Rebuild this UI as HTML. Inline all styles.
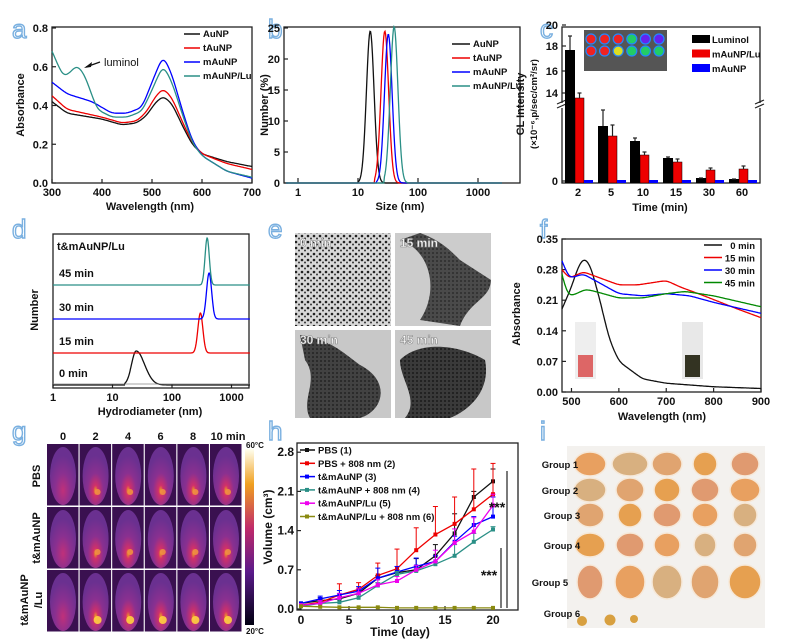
<!DOCTYPE html>
<html><head><meta charset="utf-8"><style>
html,body{margin:0;padding:0;background:#fff}
svg{display:block}
text{font-family:"Liberation Sans",sans-serif;font-weight:bold;fill:#111}
.pl{font-size:26px;fill:#fff;stroke:#7ab0e0;stroke-width:1.4;font-weight:normal}
.t{font-size:11px}
.s{font-size:9.5px}
.ax{fill:none;stroke:#222;stroke-width:1.3}
.ln{fill:none;stroke-width:1.3}
</style></head><body>
<svg id="s" width="799" height="642" viewBox="0 0 799 642" xmlns="http://www.w3.org/2000/svg">
<defs>
<radialGradient id="hot" cx="50%" cy="75%" r="60%">
<stop offset="0" stop-color="#f0a020"/><stop offset="0.15" stop-color="#d0306a"/><stop offset="0.5" stop-color="#8a3090"/><stop offset="1" stop-color="#6a3090"/></radialGradient>
<radialGradient id="warm" cx="50%" cy="75%" r="60%">
<stop offset="0" stop-color="#c0307a"/><stop offset="0.5" stop-color="#8a3090"/><stop offset="1" stop-color="#6a3090"/></radialGradient>
<linearGradient id="cb" x1="0" y1="1" x2="0" y2="0">
<stop offset="0" stop-color="#000010"/><stop offset="0.3" stop-color="#5a1a8a"/><stop offset="0.55" stop-color="#c02a6a"/><stop offset="0.8" stop-color="#f0a020"/><stop offset="1" stop-color="#fffff0"/></linearGradient>
<pattern id="dots" width="6" height="6" patternUnits="userSpaceOnUse"><rect width="6" height="6" fill="#d8d8d8"/><circle cx="2" cy="2" r="1.3" fill="#222"/><circle cx="5" cy="4.5" r="1" fill="#333"/></pattern>
<pattern id="dense" width="4" height="4" patternUnits="userSpaceOnUse"><rect width="4" height="4" fill="#333"/><circle cx="1" cy="1" r="1" fill="#111"/></pattern>
</defs>
<g id="g"></g>
</svg>
<script>
var G=document.getElementById('g'),h='';
function P(pts,c,w){return '<path class="ln" stroke="'+c+'" stroke-width="'+(w||1.3)+'" d="M'+pts.map(function(p){return p[0].toFixed(1)+','+p[1].toFixed(1)}).join('L')+'"/>';}
function T(x,y,s,cls,anc,extra){return '<text x="'+x+'" y="'+y+'" class="'+(cls||'t')+'" text-anchor="'+(anc||'middle')+'" '+(extra||'')+'>'+s+'</text>';}
function lin(pts,x){for(var i=0;i<pts.length-1;i++){if(x>=pts[i][0]&&x<=pts[i+1][0]){var t=(x-pts[i][0])/(pts[i+1][0]-pts[i][0]);return pts[i][1]+(pts[i+1][1]-pts[i][1])*t;}}return pts[pts.length-1][1];}
function curve(pts,a,b,step){var v=[];for(var x=a;x<=b;x+=step)v.push([x,lin(pts,x)]);
for(var pass=0;pass<4;pass++){var n=v.map(function(p){return p[1]});for(var i=2;i<v.length-2;i++)v[i][1]=(n[i-2]+n[i-1]+n[i]+n[i+1]+n[i+2])/5;}return v;}
function L(x1,y1,x2,y2,c,w){return '<line x1="'+x1+'" y1="'+y1+'" x2="'+x2+'" y2="'+y2+'" stroke="'+(c||'#222')+'" stroke-width="'+(w||1.2)+'"/>';}
[['a',12,38],['b',268,38],['c',540,38],['d',12,238],['e',268,238],['f',540,238],['g',12,440],['h',268,440],['i',540,440]].forEach(function(a){h+=T(a[1],a[2],a[0],'pl','start');});
// ---- a
(function(){var X=function(w){return 52+(w-300)/400*200},Y=function(v){return 183-v/0.8*155};
h+='<rect class="ax" x="52" y="27" width="200" height="156"/>';
[300,400,500,600,700].forEach(function(w){h+=L(X(w),183,X(w),179)+T(X(w),196,w);});
[0,0.2,0.4,0.6,0.8].forEach(function(v){h+=L(52,Y(v),56,Y(v))+T(48,Y(v)+4,v.toFixed(1),'t','end');});
h+=T(150,210,'Wavelength (nm)')+T(24,105,'Absorbance','t','middle','transform="rotate(-90 24 105)"');
var S={'#111':[[300,.42],[330,.36],[400,.33],[440,.30],[470,.31],[490,.35],[505,.41],[522,.45],[540,.41],[560,.30],[580,.20],[600,.15],[650,.11],[700,.085]],
'#e00':[[300,.45],[330,.38],[400,.34],[440,.31],[470,.32],[490,.37],[505,.44],[522,.49],[540,.44],[560,.32],[580,.21],[600,.15],[650,.10],[700,.07]],
'#00f':[[300,.52],[330,.46],[380,.42],[420,.36],[450,.36],[480,.39],[500,.52],[522,.66],[540,.56],[560,.38],[580,.22],[600,.14],[650,.06],[700,.025]],
'#2a8f86':[[300,.68],[322,.55],[332,.56],[350,.61],[365,.56],[390,.38],[420,.34],[450,.34],[480,.37],[500,.48],[522,.61],[540,.52],[560,.36],[580,.21],[600,.14],[650,.06],[700,.03]]};
for(var c in S){h+=P(curve(S[c],300,700,2).map(function(p){return [X(p[0]),Y(p[1])]}),c);}
h+=L(100,62,86,67,'#111')+'<polygon points="84,68 92,62 91,67" fill="#111"/>'+T(104,66,'luminol','t','start','style="font-weight:normal"');
[['AuNP','#111'],['tAuNP','#e00'],['mAuNP','#00f'],['mAuNP/Lu','#2a8f86']].forEach(function(l,i){var y=34+i*14;h+=L(184,y,200,y,l[1],1.5)+T(203,y+3,l[0],'s','start');});})();
// ---- b
(function(){var X=function(s){return 298+Math.log10(s)*60},Y=function(n){return 183-n/25*155};
h+='<rect class="ax" x="284" y="27" width="236" height="156"/>';
[[1,'1'],[10,'10'],[100,'100'],[1000,'1000']].forEach(function(a){h+=L(X(a[0]),183,X(a[0]),178)+T(X(a[0]),196,a[1]);});
[0,5,10,15,20,25].forEach(function(v){h+=L(284,Y(v),288,Y(v))+T(280,Y(v)+4,v,'t','end');});
h+=T(400,210,'Size (nm)')+T(268,105,'Number (%)','t','middle','transform="rotate(-90 268 105)"');
[[16,24.5,'#111',10],[28,24.5,'#e00',19],[32,24,'#00f',20],[40,25.2,'#2a8f86',27]].forEach(function(a){var p=[];for(var l=-0.2;l<=3.4;l+=0.01){var s=Math.pow(10,l),d=(l-Math.log10(a[0]))/0.09;var n=s<a[3]?0:a[1]*Math.exp(-d*d);p.push([X(s),Y(n)]);}h+=P(p,a[2]);});
[['AuNP','#111'],['tAuNP','#e00'],['mAuNP','#00f'],['mAuNP/Lu','#2a8f86']].forEach(function(l,i){var y=44+i*14;h+=L(452,y,470,y,l[1],1.5)+T(473,y+3,l[0],'s','start');});})();
// ---- c
(function(){h+='<rect class="ax" x="562" y="27" width="198" height="156"/>';
h+='<rect x="558" y="103" width="8" height="5" fill="#fff"/>'+L(557,104,566,100)+L(557,108,566,104)+'<rect x="756" y="103" width="8" height="5" fill="#fff"/>'+L(755,104,764,100)+L(755,108,764,104);
[[20,25],[18,46],[16,71],[14,93],[0,181]].forEach(function(a){h+=L(562,a[1],566,a[1])+T(558,a[1]+4,a[0],'t','end');});
var cats=[['2',578,50,98,36,93],['5',611,126,136,110,125],['10',643,141,155,138,152],['15',676,158,162,157,159],['30',709,178,170,178,168],['60',742,179,169,179,166]];
cats.forEach(function(c){var x=c[1];h+=L(x,183,x,179)+T(x,196,c[0]);
h+='<rect x="'+(x-13)+'" y="'+c[2]+'" width="10" height="'+(183-c[2])+'" fill="#000"/>'+'<rect x="'+(x-3)+'" y="'+c[3]+'" width="9" height="'+(183-c[3])+'" fill="#e00" stroke="#000" stroke-width=".5"/>'+'<rect x="'+(x+6)+'" y="180" width="9" height="3" fill="#00f"/>';
h+=L(x-8,c[4],x-8,c[2])+L(x-10,c[4],x-6,c[4])+L(x+1.5,c[5],x+1.5,c[3])+L(x-0.5,c[5],x+3.5,c[5]);});
h+=T(660,211,'Time (min)')+T(524,104,'CL Intensity','t','middle','transform="rotate(-90 524 104)"')+T(537,104,'(×10⁻⁶,p/sec/cm²/sr)','s','middle','transform="rotate(-90 537 104)"');
h+='<rect x="584" y="30" width="83" height="41" fill="#555"/>';
var col=[['#e22','#e22','#e22','#2c6','#62e','#62e'],['#e22','#e22','#dd2','#2c6','#2c6','#2c6']];
for(var r=0;r<2;r++)for(var k=0;k<6;k++)h+='<circle cx="'+(591+k*13.6)+'" cy="'+(39+r*12)+'" r="5" fill="'+col[r][k]+'" stroke="#28f" stroke-width="1.2"/>';
[['Luminol','#000'],['mAuNP/Lu','#e00'],['mAuNP','#00f']].forEach(function(l,i){var y=39+i*14.5;h+='<rect x="692" y="'+(y-4)+'" width="18" height="8" fill="'+l[1]+'"/>'+T(712,y+4,l[0],'s','start');});})();
// ---- d
(function(){var X=function(s){return 53+Math.log10(s)*59.5};
h+='<rect class="ax" x="53" y="234" width="196" height="154"/>';
[[1,'1'],[10,'10'],[100,'100'],[1000,'1000']].forEach(function(a){h+=L(X(a[0]),388,X(a[0]),384)+T(X(a[0]),401,a[1]);});
h+=T(150,415,'Hydrodiameter (nm)')+T(38,310,'Number','t','middle','transform="rotate(-90 38 310)"')+T(57,250,'t&amp;mAuNP/Lu','t','start');
[[385,25,34,'#111','0 min',16,0.11],[353,300,40,'#e00','15 min',210,0.06],[319,420,46,'#00f','30 min',270,0.06],[285,390,47,'#2a8f86','45 min',275,0.05]].forEach(function(a){var p=[];for(var l=0;l<=3.31;l+=0.005){var s=Math.pow(10,l),d=(l-Math.log10(a[1]))/a[6];var n=s<a[5]?0:Math.exp(-d*d);if(a[3]=='#111'&&l>Math.log10(a[1]))n=Math.exp(-Math.pow((l-Math.log10(a[1]))/0.2,2));p.push([X(s),a[0]-n*a[2]]);}h+=P(p,a[3]);h+=T(59,a[0]-8,a[4],'t','start');});
h+=L(53,384,249,384,'#888',0.8);})();
// ---- e
(function(){h+='<rect x="295" y="233" width="96" height="93" fill="url(#dots)"/><rect x="395" y="233" width="96" height="93" fill="#ccc"/><path d="M400,240 C430,250 440,290 420,320 L460,326 C470,300 490,300 491,280 L460,260 C450,250 440,240 420,233Z" fill="url(#dense)" opacity=".85"/>';
h+='<rect x="295" y="330" width="96" height="88" fill="#c8c8c8"/><path d="M300,335 C330,340 340,350 360,365 C390,380 385,410 360,418 L310,418 C300,400 320,380 305,360Z" fill="url(#dense)" opacity=".9"/>';
h+='<rect x="395" y="330" width="96" height="88" fill="#c8c8c8"/><path d="M400,360 C420,340 460,345 485,360 C491,390 470,410 450,418 L405,418 C420,400 400,380 400,360Z" fill="url(#dense)" opacity=".95"/>';
[['0 min',300,247],['15 min',400,247],['30 min',300,344],['45 min',400,344]].forEach(function(a){h+='<text x="'+a[1]+'" y="'+a[2]+'" font-size="12" text-anchor="start" style="fill:#fff;stroke:#888;stroke-width:.6">'+a[0]+'</text>';});})();
// ---- f
(function(){var X=function(w){return 562+(w-480)/420*199},Y=function(v){return 392-v/0.35*153};
h+='<rect class="ax" x="562" y="239" width="199" height="153"/>';
[500,600,700,800,900].forEach(function(w){h+=L(X(w),392,X(w),388)+T(X(w),405,w);});
[0,0.07,0.14,0.21,0.28,0.35].forEach(function(v){h+=L(562,Y(v),566,Y(v))+T(558,Y(v)+4,v.toFixed(2),'t','end');});
h+=T(662,420,'Wavelength (nm)')+T(520,314,'Absorbance','t','middle','transform="rotate(-90 520 314)"');
h+='<rect x="575" y="322" width="21" height="57" fill="#eee"/><rect x="578" y="355" width="15" height="22" fill="#d66"/><rect x="682" y="322" width="21" height="57" fill="#e8e8e8"/><rect x="685" y="355" width="15" height="22" fill="#332"/>';
var S={'#111':[[480,.19],[500,.24],[515,.29],[527,.308],[540,.29],[560,.21],[580,.12],[600,.07],[650,.03],[700,.02],[800,.012],[900,.008]],
'#e00':[[480,.28],[495,.26],[525,.275],[550,.265],[600,.245],[640,.245],[700,.255],[730,.24],[780,.22],[850,.19],[900,.17]],
'#00f':[[480,.30],[495,.26],[525,.27],[550,.255],[600,.225],[650,.22],[700,.225],[750,.22],[800,.205],[900,.18]],
'#080':[[480,.27],[490,.225],[500,.22],[530,.235],[550,.23],[600,.215],[650,.215],[700,.225],[740,.23],[800,.22],[900,.195]]};
for(var c in S){h+=P(curve(S[c],480,900,2).map(function(p){return [X(p[0]),Y(p[1])]}),c);}
[['0 min','#111'],['15 min','#e00'],['30 min','#00f'],['45 min','#080']].forEach(function(l,i){var y=245+i*12.5;h+=L(704,y,722,y,l[1],1.5)+T(755,y+4,l[0],'s','end');});})();
// ---- g
(function(){['0','2','4','6','8','10 min'].forEach(function(s,i){h+=T(i==5?228:63+i*32.5,440,s);});
for(var r=0;r<3;r++)for(var k=0;k<6;k++){var x=47+k*32.6,y=444+r*63;h+='<rect x="'+x+'" y="'+y+'" width="31.5" height="61.5" fill="#3a1050"/>';
h+='<ellipse cx="'+(x+16)+'" cy="'+(y+32)+'" rx="13" ry="29" fill="url(#'+(k==0?'warm':'hot')+')"/>';
if(k>0){h+='<circle cx="'+(x+18)+'" cy="'+(y+(r==0?48:r==1?45:50))+'" r="'+(r==2?4:3)+'" fill="'+(r==2?'#ffd040':'#f09040')+'" opacity=".9"/>';}}
h+='<rect x="245" y="449" width="9" height="176" fill="url(#cb)"/>'+T(246,448,'60°C','s','start','style="font-size:8px"')+T(246,634,'20°C','s','start','style="font-size:8px"');
h+=T(40,476,'PBS','t','middle','transform="rotate(-90 40 476)"')+T(40,538,'t&amp;mAuNP','t','middle','transform="rotate(-90 40 538)"')+T(28,600,'t&amp;mAuNP','t','middle','transform="rotate(-90 28 600)"')+T(42,600,'/Lu','t','middle','transform="rotate(-90 42 600)"');})();
// ---- h
(function(){var X=function(d){return 301+d*9.6},Y=function(v){return 609-v/0.7*39.2};
h+='<rect class="ax" x="297" y="443" width="221" height="167"/>';
[0,5,10,15,20].forEach(function(d){h+=L(X(d),610,X(d),606)+T(X(d),624,d,'t','middle','style="font-size:12px"');});
[0,0.7,1.4,2.1,2.8].forEach(function(v){h+=L(297,Y(v),301,Y(v))+T(294,Y(v)+4,v.toFixed(1),'t','end','style="font-size:12px"');});
h+=T(400,636,'Time (day)','t','middle','style="font-size:12px"')+T(272,527,'Volume (cm³)','t','middle','transform="rotate(-90 272 527)" style="font-size:12px"');
var days=[0,2,4,6,8,10,12,14,16,18,20];
var D=[['#111',[.1,.15,.18,.28,.55,.65,.7,.95,1.35,2.0,2.28],[0,.05,.05,.05,.05,.05,.2,.2,.35,.1,.22]],
['#e00',[.07,.12,.25,.35,.6,.72,1.05,1.33,1.52,1.78,2.05],[0,.05,.2,.12,.22,.35,.4,.5,.48,.72,.55]],
['#00f',[.1,.18,.25,.32,.55,.66,.76,.85,1.2,1.5,1.65],[0,.05,.08,.08,.18,.1,.15,.1,.1,.15,.35]],
['#2a8f86',[.05,.1,.12,.2,.42,.62,.68,.8,.95,1.2,1.42],[0,.03,.05,.05,.05,.05,.05,.05,.2,.15,.05]],
['#e0e',[.07,.1,.2,.28,.43,.5,.7,.85,1.18,1.38,1.85],[0,.05,.08,.08,.1,.08,.08,.2,.25,.25,.2]],
['#8a8a10',[.05,.04,.03,.03,.03,.02,.02,.02,.02,.02,.02],[0,0,0,0,0,0,0,0,0,0,0]]];
D.forEach(function(s){var p=days.map(function(d,i){return [X(d),Y(s[1][i])];});h+=P(p,s[0],1.3);
days.forEach(function(d,i){var x=X(d),y=Y(s[1][i]);if(s[2][i]>0)h+=L(x,y,x,Y(s[1][i]+s[2][i]),s[0],1)+L(x-2.5,Y(s[1][i]+s[2][i]),x+2.5,Y(s[1][i]+s[2][i]),s[0],1);h+='<rect x="'+(x-2)+'" y="'+(y-2)+'" width="4" height="4" fill="'+s[0]+'"/>';});});
['PBS (1)','PBS + 808 nm (2)','t&amp;mAuNP (3)','t&amp;mAuNP + 808 nm (4)','t&amp;mAuNP/Lu (5)','t&amp;mAuNP/Lu + 808 nm (6)'].forEach(function(t,i){var y=450+i*13.3;h+=L(300,y,315,y,D[i][0],1.5)+'<rect x="305" y="'+(y-2)+'" width="4" height="4" fill="'+D[i][0]+'"/>'+T(318,y+3.5,t,'s','start');});
h+=L(507,471,507,608)+L(501,548,501,608)+T(497,512,'***','t','middle','style="font-size:14px"')+T(489,580,'***','t','middle','style="font-size:14px"');})();
// ---- i
(function(){h+='<rect x="567" y="446" width="198" height="182" fill="#f3f1ee"/>';
var cx=[590,630,667,705,745],cy=[464,490,515,545,582],rw=[[16,18,15,12,14],[16,14,13,14,15],[14,12,14,13,12],[15,14,13,11,12],[13,15,15,14,16]];
var fc=['#e8a060','#d8b080','#e0a470','#e6a050','#e09a70'];
for(var r=0;r<5;r++){for(var k=0;k<5;k++){h+='<ellipse cx="'+cx[k]+'" cy="'+cy[r]+'" rx="'+rw[r][k]+'" ry="'+(r==4?17:12)+'" fill="'+fc[(r+k)%5]+'" stroke="#f6e8d8" stroke-width="1.5"/>';}
h+=T(r==4?550:560-(r>1?-2:0),cy[r]+4,'Group '+(r+1),'s','middle');}
h+='<circle cx="582" cy="621" r="5" fill="#d8a040"/><circle cx="610" cy="620" r="5.5" fill="#d8a040"/><circle cx="634" cy="619" r="4" fill="#d8a040"/>'+T(562,617,'Group 6','s','middle');})();
G.innerHTML=h;
</script>
</body></html>
